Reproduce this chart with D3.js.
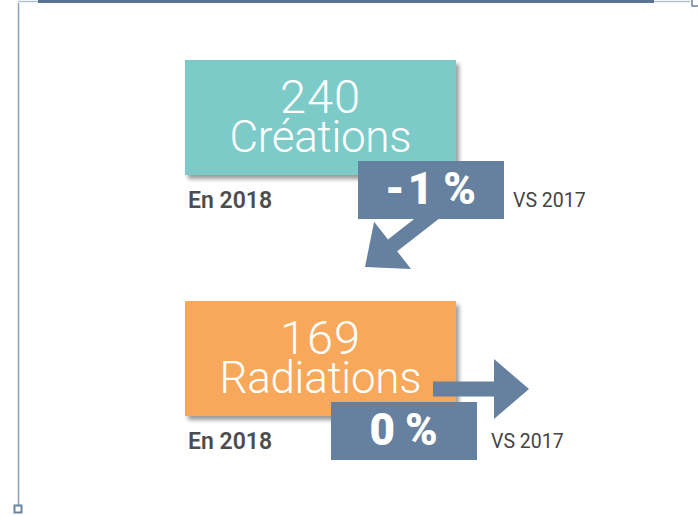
<!doctype html>
<html>
  <head>
    <meta charset="utf-8">
    <script src="https://cdn.jsdelivr.net/npm/d3@7"></script>
    <style>
    body { margin: 0; background: #fff; }
    .chart { font-family: 'Roboto', sans-serif; }
    </style>
  </head>
  <body>
    <svg class="chart"></svg>
  <script>

    // data
    const labels = ["Créations", "Radiations"]
    const totals = [240, 169]
    const changes = [-1, 0]
    const yearText = "En 2018"
    const compareText = "VS 2017"

    const width = 698, height = 516

    const teal = "#7bcbc9",
        orange = "#f7a85a",
         slate = "#66809f",
          grey = "#4d4d4d"

    const boxColors = [teal, orange]

    // per row layout (pixel offsets from the main box)
    const badgeX = [358, 331], badgeDy = 101
    const badgeW = 146, badgeH = 58

    const svg = d3.select(".chart")
                  .attr("width", width)
                  .attr("height", height)

    const defs = svg.append("defs")
    defs.append("filter")
        .attr("id", "shadow")
        .attr("x", "-10%").attr("y", "-10%")
        .attr("width", "130%").attr("height", "140%")
      .append("feDropShadow")
        .attr("dx", 3).attr("dy", 4)
        .attr("stdDeviation", 2.2)
        .attr("flood-color", "#000")
        .attr("flood-opacity", 0.4)

    // frame
    svg.append("line").attr("x1", 18).attr("x2", 690).attr("y1", 1.5).attr("y2", 1.5)
       .attr("stroke", "#b3c0d0").attr("stroke-width", 1.5)
    svg.append("line").attr("x1", 38).attr("x2", 654).attr("y1", 1.5).attr("y2", 1.5)
       .attr("stroke", "#5b7393").attr("stroke-width", 3)
    svg.append("path").attr("d", "M692,0 V6 H698")
       .attr("fill", "none").attr("stroke", "#6a83a3").attr("stroke-width", 1.5)
    svg.append("line").attr("x1", 18.5).attr("x2", 18.5).attr("y1", 3).attr("y2", 505)
       .attr("stroke", "#8aa0bb").attr("stroke-width", 1.5)
    svg.append("rect").attr("x", 14.5).attr("y", 505.5).attr("width", 7).attr("height", 7)
       .attr("fill", "#fff").attr("stroke", "#6a83a3").attr("stroke-width", 2)

    const y = d3.scalePoint()
                .domain(labels)
                .range([60, 301])

    const x = d3.scaleLinear().domain([0, 1]).range([185, 456])
    const boxH = 115

    const line = d3.line()

    // arrow polygon: tip at origin pointing along +x, rotated afterwards
    function arrowPoints(len) {
      const sw = 7.5, hw = 30, hl = 35
      return [[0, 0], [-hl, -hw], [-hl, -sw], [-len, -sw], [-len, sw], [-hl, sw], [-hl, hw]]
    }

    labels.forEach(function(label, i) {
      const top = y(label)
      const cx = (x(0) + x(1)) / 2
      const g = svg.append("g").attr("class", "row")

      g.append("rect")
        .attr("x", x(0))
        .attr("y", top)
        .attr("width", x(1) - x(0))
        .attr("height", boxH)
        .attr("fill", boxColors[i])
        .attr("filter", "url(#shadow)")

      const t = g.append("text")
        .attr("text-anchor", "middle")
        .attr("fill", "#fff")
        .attr("font-weight", 300)

      t.append("tspan")
        .attr("x", cx)
        .attr("y", top + 53)
        .attr("font-size", 47)
        .attr("letter-spacing", 1)
        .text(totals[i])

      t.append("tspan")
        .attr("x", cx)
        .attr("y", top + 92)
        .attr("font-size", 44)
        .attr("textLength", i == 0 ? 182 : 202)
        .text(label)

      g.append("text")
        .attr("x", x(0) + 3)
        .attr("y", top + 148)
        .attr("fill", grey)
        .attr("font-size", 23)
        .attr("font-weight", 600)
        .text(yearText)

      // arrow
      let tip, angle, len
      if (changes[i] < 0) { tip = [365, 267]; angle = 142; len = 110 }
      else if (changes[i] > 0) { tip = [529, top - 60]; angle = -38; len = 96 }
      else { tip = [529, top + 88]; angle = 0; len = 96 }

      g.append("path")
        .attr("d", line(arrowPoints(len)) + "Z")
        .attr("transform", "translate(" + tip[0] + "," + tip[1] + ") rotate(" + angle + ")")
        .attr("fill", slate)

      const bx = badgeX[i], by = top + badgeDy
      g.append("rect")
        .attr("x", bx)
        .attr("y", by)
        .attr("width", badgeW)
        .attr("height", badgeH)
        .attr("fill", slate)

      g.append("text")
        .attr("x", bx + badgeW / 2 + 1)
        .attr("y", by + 43)
        .attr("text-anchor", "middle")
        .attr("fill", "#fff")
        .attr("font-size", 44)
        .attr("font-weight", 900)
        .attr("letter-spacing", 3)
        .attr("word-spacing", -7)
        .text(changes[i] + " %")

      g.append("text")
        .attr("x", bx + badgeW + (i == 0 ? 9 : 14))
        .attr("y", by + 46)
        .attr("fill", "#444")
        .attr("font-size", 19.5)
        .text(compareText)
    })

  </script>
  </body>
</html>
